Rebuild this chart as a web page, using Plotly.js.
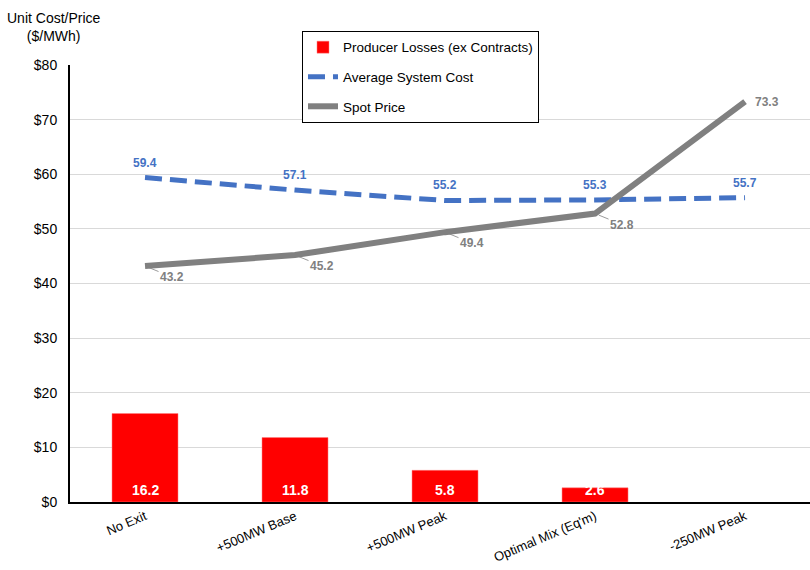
<!DOCTYPE html>
<html><head><meta charset="utf-8">
<script src="https://cdn.plot.ly/plotly-3.0.1.min.js"></script>
<style>html,body{margin:0;padding:0;background:#fff}#chart{width:810px;height:570px}</style>
</head><body><div id="chart"></div>
<script>
const categories = ["No Exit", "+500MW Base", "+500MW Peak", "Optimal Mix (Eq'm)", "-250MW Peak"];
const producerLosses = [16.2, 11.8, 5.8, 2.6, null];
const avgSystemCost = [59.4, 57.1, 55.2, 55.3, 55.7];
const spotPrice = [43.2, 45.2, 49.4, 52.8, 73.3];
const yTickVals = [0, 10, 20, 30, 40, 50, 60, 70, 80];
const yTickText = ["$0", "$10", "$20", "$30", "$40", "$50", "$60", "$70", "$80"];

const FONT = "Liberation Sans, Arial, sans-serif";
const BLUE = "#4472C4", GRAY = "#808080", RED = "#FF0000";

const traces = [
  {type: "bar", name: "Producer Losses (ex Contracts)", x: categories, y: producerLosses,
   marker: {color: RED, line: {color: "#ff8080", width: 0.5}}, width: 0.44, legendgroup: "a"},
  {type: "scatter", mode: "lines", name: "Average System Cost", x: categories, y: avgSystemCost,
   line: {color: BLUE, width: 5, dash: "17px,8px"}, legendgroup: "b"},
  {type: "scatter", mode: "lines", name: "Spot Price", x: categories, y: spotPrice,
   line: {color: GRAY, width: 6}, legendgroup: "c"}
];

const annotations = [];
categories.forEach((c, i) => {
  if (producerLosses[i] != null) {
    annotations.push({x: c, y: 0, yanchor: "bottom", yshift: 2, text: "<b>" + producerLosses[i].toFixed(1) + "</b>",
      showarrow: false, font: {family: FONT, size: 14, color: "#fff"}});
  }
  annotations.push({x: c, y: avgSystemCost[i], yshift: 15, text: "<b>" + avgSystemCost[i].toFixed(1) + "</b>",
    showarrow: false, font: {family: FONT, size: 12, color: BLUE}});
  const last = i === categories.length - 1;
  annotations.push({x: c, y: spotPrice[i], text: "<b>" + spotPrice[i].toFixed(1) + "</b>",
    showarrow: !last, arrowhead: 0, arrowwidth: 0.8, arrowcolor: GRAY, standoff: 4,
    ax: last ? 0 : 27, ay: last ? 0 : 11, xshift: last ? 22 : 0,
    font: {family: FONT, size: 12, color: GRAY}});
});
annotations.push({xref: "paper", yref: "paper", x: -0.0216, y: 1.043, xanchor: "center", yanchor: "bottom",
  text: "Unit Cost/Price<br>($/MWh)", showarrow: false, align: "center",
  font: {family: FONT, size: 14, color: "#000"}});

const layout = {
  width: 810, height: 570,
  margin: {l: 70, r: 0, t: 65, b: 68},
  paper_bgcolor: "#fff", plot_bgcolor: "#fff",
  font: {family: FONT, size: 13, color: "#000"},
  showlegend: true,
  legend: {x: 0.3135, y: 1.078, xanchor: "left", yanchor: "top", bgcolor: "#fff",
    bordercolor: "#000", borderwidth: 1, tracegroupgap: 9,
    font: {family: FONT, size: 13.5, color: "#000"}},
  xaxis: {type: "category", range: [-0.5, 4.433], showgrid: false, showline: true,
    linecolor: "#000", linewidth: 2, ticks: "", tickangle: -23,
    tickfont: {family: FONT, size: 13, color: "#000"}},
  yaxis: {range: [0, 80], tickvals: yTickVals, ticktext: yTickText, showgrid: true,
    gridcolor: "#d9d9d9", gridwidth: 1, showline: true, linecolor: "#000", linewidth: 2,
    zeroline: false, ticks: "", ticklen: 0, ticklabelstandoff: 8,
    tickfont: {family: FONT, size: 14, color: "#000"}},
  annotations: annotations,
  bargap: 0.56
};
Plotly.newPlot("chart", traces, layout, {displayModeBar: false, staticPlot: true});
</script></body></html>
